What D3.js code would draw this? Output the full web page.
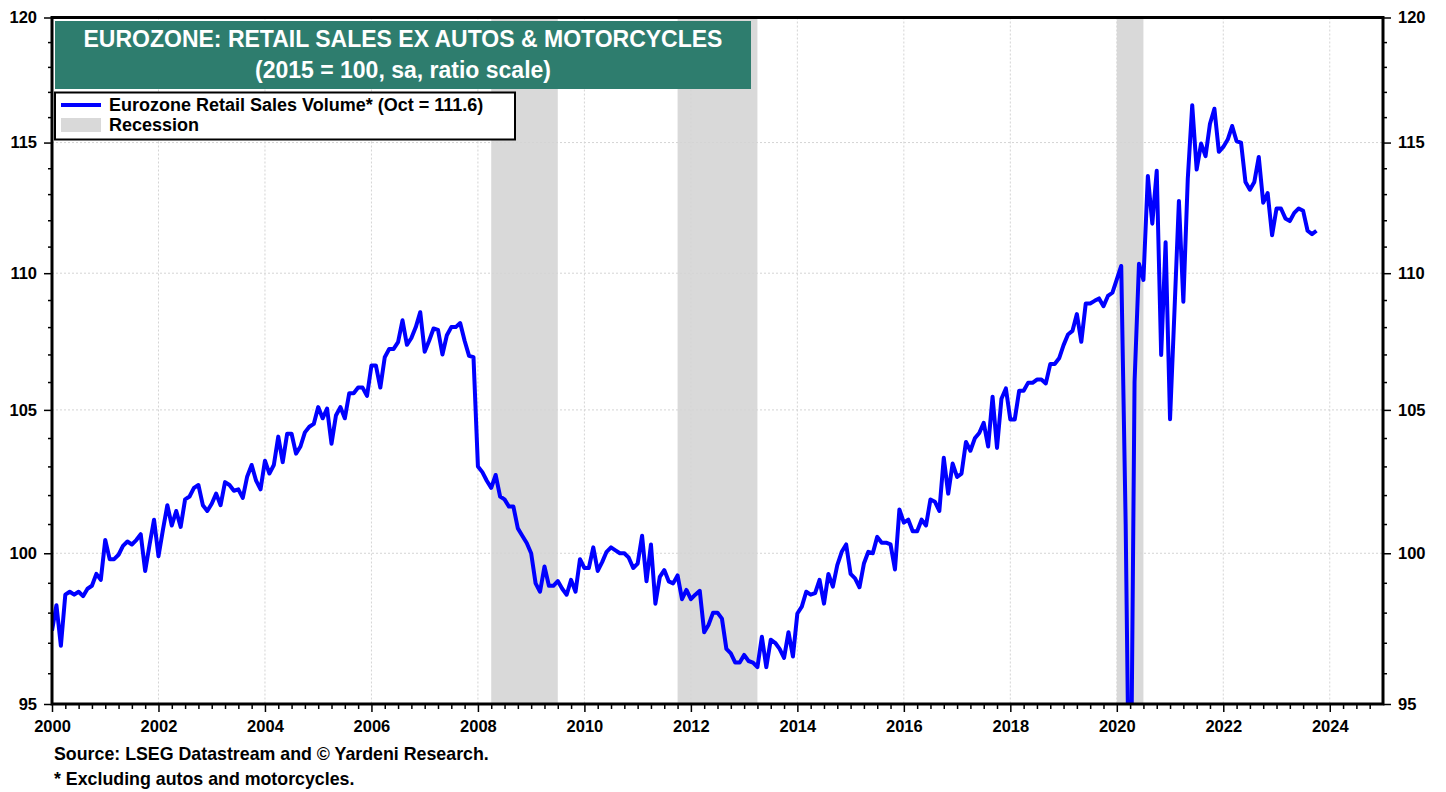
<!DOCTYPE html>
<html>
<head>
<meta charset="utf-8">
<title>Eurozone: Retail Sales ex Autos & Motorcycles</title>
<script src="https://cdn.jsdelivr.net/npm/d3@7"></script>
<style>
body { margin: 0; background: #fff; }
svg text { font-family: Arial, "Liberation Sans", sans-serif; font-weight: bold; }
</style>
</head>
<body>
<svg id="chart" width="1446" height="792"></svg>

<script>
// monthly index, 2015 = 100, Jan 2000 .. Oct 2023
var startYear = 2000;
var salesVolume = [
  97.4, 98.25, 96.9, 98.6, 98.7, 98.6, 98.7, 98.55, 98.8, 98.9, 99.3, 99.1,          // 2000
  100.45, 99.8, 99.8, 99.95, 100.25, 100.4, 100.3, 100.45, 100.65, 99.4, 100.3, 101.15, // 2001
  99.9, 100.8, 101.65, 100.95, 101.45, 100.9, 101.85, 101.95, 102.25, 102.35, 101.65, 101.45, // 2002
  101.7, 102.05, 101.65, 102.45, 102.35, 102.15, 102.2, 101.9, 102.65, 103.05, 102.5, 102.2, // 2003
  103.2, 102.75, 103.05, 104.05, 103.15, 104.15, 104.15, 103.45, 103.7, 104.2, 104.4, 104.5, // 2004
  105.1, 104.7, 105.05, 103.8, 104.8, 105.1, 104.7, 105.6, 105.6, 105.8, 105.8, 105.5, // 2005
  106.6, 106.6, 105.8, 106.9, 107.2, 107.2, 107.45, 108.25, 107.35, 107.6, 108.0, 108.55, // 2006
  107.1, 107.5, 107.95, 107.9, 107.0, 107.7, 108.0, 108.0, 108.15, 107.5, 106.95, 106.9, // 2007
  103.0, 102.8, 102.5, 102.25, 102.7, 101.95, 101.85, 101.6, 101.6, 100.85, 100.6, 100.35, // 2008
  100.0, 98.98, 98.7, 99.55, 98.9, 98.9, 99.06, 98.8, 98.6, 99.1, 98.7, 99.8,         // 2009
  99.5, 99.5, 100.2, 99.4, 99.7, 100.05, 100.2, 100.1, 100.0, 100.0, 99.85, 99.5,     // 2010
  99.65, 100.6, 99.05, 100.3, 98.3, 99.2, 99.43, 99.05, 98.98, 99.25, 98.45, 98.76,  // 2011
  98.45, 98.6, 98.73, 97.35, 97.6, 98.0, 98.0, 97.8, 96.8, 96.65, 96.35, 96.35,      // 2012
  96.6, 96.4, 96.35, 96.2, 97.2, 96.2, 97.1, 97.0, 96.8, 96.5, 97.35, 96.55,         // 2013
  97.97, 98.2, 98.7, 98.6, 98.65, 99.1, 98.3, 99.3, 98.87, 99.6, 100.05, 100.3,      // 2014
  99.3, 99.15, 98.85, 99.65, 100.05, 100.0, 100.56, 100.36, 100.36, 100.3, 99.45, 101.5, // 2015
  101.05, 101.15, 100.75, 100.75, 101.15, 100.95, 101.85, 101.77, 101.45, 103.3, 102.05, 103.1, // 2016
  102.63, 102.75, 103.86, 103.55, 103.99, 104.18, 104.54, 103.7, 105.47, 103.65, 105.4, 105.77, // 2017
  104.66, 104.66, 105.69, 105.69, 105.97, 105.97, 106.09, 106.09, 105.95, 106.65, 106.65, 106.86, // 2018
  107.34, 107.73, 107.86, 108.48, 107.46, 108.87, 108.87, 108.97, 109.06, 108.77, 109.15, 109.27, // 2019
  109.77, 110.27, 101.0, 89.0, 106.0, 110.35, 109.75, 113.7, 111.87, 113.9, 106.98, 111.16, // 2020
  104.67, 108.6, 112.74, 108.94, 113.6, 116.47, 113.95, 114.96, 114.47, 115.74, 116.33, 114.64, // 2021
  114.83, 115.12, 115.65, 115.05, 115.0, 113.47, 113.17, 113.47, 114.44, 112.67, 113.04, 111.43, // 2022
  112.45, 112.45, 112.07, 111.97, 112.28, 112.45, 112.36, 111.6, 111.47, 111.6       // 2023
];

var recessionStarts = [2008.25, 2011.75, 2020.0];
var recessionEnds   = [2009.5, 2013.25, 2020.5];

var yearTicks  = [2000, 2002, 2004, 2006, 2008, 2010, 2012, 2014, 2016, 2018, 2020, 2022, 2024];
var valueTicks = [95, 100, 105, 110, 115, 120];

var titleLines = ["EUROZONE: RETAIL SALES EX AUTOS & MOTORCYCLES", "(2015 = 100, sa, ratio scale)"];
var legendLabels = ["Eurozone Retail Sales Volume* (Oct = 111.6)", "Recession"];
var notes = ["Source: LSEG Datastream and \u00A9 Yardeni Research.", "* Excluding autos and motorcycles."];

// plot area edges (window.top is reserved, so plot* names)
var plotL = 52, plotR = 1383, plotT = 17.5, plotB = 704;

var svg = d3.select("#chart");

var x = d3.scaleLinear()
    .domain([2000, 2025])
    .range([plotL, plotR]);

var y = d3.scaleLog()
    .domain([95, 120])
    .range([plotB, plotT]);

// recession bands
svg.selectAll(".recession")
    .data(recessionStarts)
  .enter().append("rect")
    .attr("class", "recession")
    .attr("x", function(d) { return x(d); })
    .attr("y", plotT)
    .attr("width", function(d, i) { return x(recessionEnds[i]) - x(d); })
    .attr("height", plotB - plotT)
    .attr("fill", "#d9d9d9");

// dotted grid
svg.append("g").selectAll("line")
    .data(yearTicks.slice(1))
  .enter().append("line")
    .attr("x1", function(d) { return x(d); })
    .attr("x2", function(d) { return x(d); })
    .attr("y1", plotT).attr("y2", plotB)
    .attr("style", "stroke:#d4d4d4; stroke-width:1; stroke-dasharray:2,2");

svg.append("g").selectAll("line")
    .data(valueTicks.slice(1, -1))
  .enter().append("line")
    .attr("x1", plotL).attr("x2", plotR)
    .attr("y1", function(d) { return y(d); })
    .attr("y2", function(d) { return y(d); })
    .attr("style", "stroke:#d4d4d4; stroke-width:1; stroke-dasharray:2,2");

// clip so the 2020 plunge stops at the bottom axis
svg.append("clipPath").attr("id", "plot-clip")
  .append("rect")
    .attr("x", plotL).attr("y", plotT)
    .attr("width", plotR - plotL).attr("height", plotB - plotT);

var line = d3.line()
    .x(function(d, i) { return x(startYear + i / 12); })
    .y(function(d) { return y(d); });

svg.append("path")
    .datum(salesVolume)
    .attr("clip-path", "url(#plot-clip)")
    .attr("d", line)
    .attr("style", "fill:none; stroke:#0000ff; stroke-width:4; stroke-linejoin:round");

// minor tick values
var yMinor = d3.range(96, 120).filter(function(v) { return v % 5 != 0; });
var xMinor = d3.range(0, 100).map(function(q) { return 2000 + q / 4; })
    .filter(function(v) { return v % 2 != 0; });

function styleAxis(g) {
  g.select(".domain").remove();
  g.selectAll("line").attr("stroke", "#000").attr("stroke-width", 1.5);
  g.selectAll("text").attr("fill", "#000");
  g.attr("font-size", 16.5).attr("font-family", null);
}

svg.append("g")
    .attr("transform", "translate(" + plotL + ",0)")
    .call(d3.axisLeft(y).tickValues(yMinor).tickSize(4).tickFormat(""))
    .call(styleAxis);
svg.append("g")
    .attr("transform", "translate(" + plotL + ",0)")
    .call(d3.axisLeft(y).tickValues(valueTicks).tickSize(8).tickPadding(7).tickFormat(d3.format("d")))
    .call(styleAxis);

svg.append("g")
    .attr("transform", "translate(" + plotR + ",0)")
    .call(d3.axisRight(y).tickValues(yMinor).tickSize(4).tickFormat(""))
    .call(styleAxis);
svg.append("g")
    .attr("transform", "translate(" + plotR + ",0)")
    .call(d3.axisRight(y).tickValues(valueTicks).tickSize(8).tickPadding(7).tickFormat(d3.format("d")))
    .call(styleAxis);

svg.append("g")
    .attr("transform", "translate(0," + plotB + ")")
    .call(d3.axisBottom(x).tickValues(xMinor).tickSize(5).tickFormat(""))
    .call(styleAxis);
svg.append("g")
    .attr("transform", "translate(0," + plotB + ")")
    .call(d3.axisBottom(x).tickValues(yearTicks).tickSize(8).tickPadding(8).tickFormat(d3.format("d")))
    .call(styleAxis);

// plot frame
svg.append("rect")
    .attr("x", plotL).attr("y", plotT)
    .attr("width", plotR - plotL).attr("height", plotB - plotT)
    .attr("style", "fill:none; stroke:#000; stroke-width:3");

// title box
svg.append("rect")
    .attr("x", 55).attr("y", 21)
    .attr("width", 696).attr("height", 68)
    .attr("fill", "#2e7d6e");

svg.selectAll(".title")
    .data(titleLines)
  .enter().append("text")
    .attr("class", "title")
    .attr("x", 403)
    .attr("y", function(d, i) { return 47 + i * 31; })
    .attr("text-anchor", "middle")
    .attr("font-size", 23)
    .attr("fill", "#fff")
    .text(function(d) { return d; });

// legend
var legend = svg.append("g");
legend.append("rect")
    .attr("x", 55).attr("y", 92.5)
    .attr("width", 460).attr("height", 47)
    .attr("style", "fill:#fff; stroke:#000; stroke-width:2");
legend.append("line")
    .attr("x1", 61).attr("x2", 101)
    .attr("y1", 105).attr("y2", 105)
    .attr("style", "stroke:#0000ff; stroke-width:4");
legend.append("rect")
    .attr("x", 61).attr("y", 118)
    .attr("width", 40).attr("height", 14)
    .attr("fill", "#d9d9d9");
legend.selectAll("text")
    .data(legendLabels)
  .enter().append("text")
    .attr("x", 109)
    .attr("y", function(d, i) { return 111 + i * 20; })
    .attr("font-size", 18)
    .attr("fill", "#000")
    .text(function(d) { return d; });

// source notes
svg.selectAll(".note")
    .data(notes)
  .enter().append("text")
    .attr("class", "note")
    .attr("x", 54)
    .attr("y", function(d, i) { return 760 + i * 25; })
    .attr("font-size", 17.8)
    .attr("fill", "#000")
    .text(function(d) { return d; });
</script>
</body>
</html>
